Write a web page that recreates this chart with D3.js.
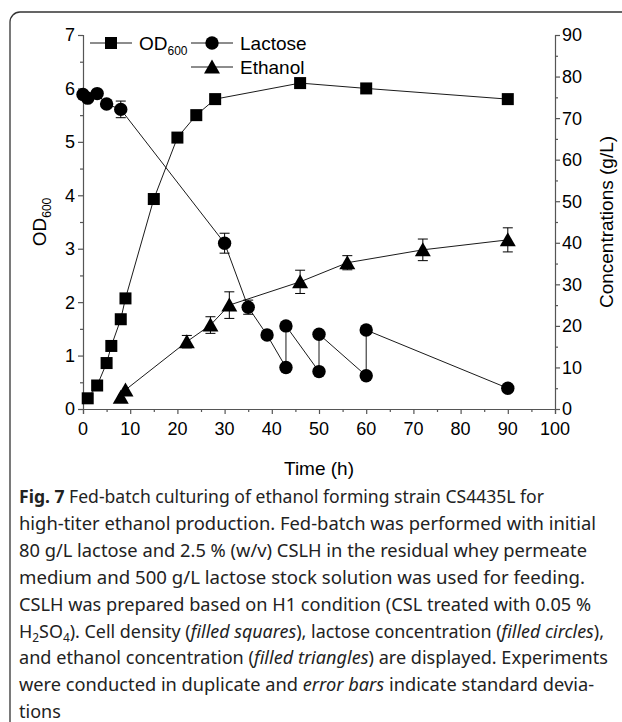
<!DOCTYPE html>
<html>
<head>
<meta charset="utf-8">
<script src="https://cdn.jsdelivr.net/npm/d3@7"></script>
<style>
  body { margin: 0; background: #fff; }
  svg { display: block; font-family: "Liberation Sans", Arial, sans-serif; }
  .caption { font-family: "Noto Sans", "Open Sans", sans-serif; }
</style>
</head>
<body>
<div id="chart"></div>
<script>
// OD600 (left axis)
const odTime = [1, 3, 5, 6, 8, 9, 15, 20, 24, 28, 46, 60, 90];
const odValue = [0.2, 0.44, 0.86, 1.18, 1.68, 2.07, 3.93, 5.08, 5.5, 5.8, 6.1, 6.0, 5.8];

// Lactose g/L (right axis), feeding spikes give the repeated times
const lacTime = [0, 1, 3, 5, 8, 30, 35, 39, 43, 43, 50, 50, 60, 60, 90];
const lacValue = [75.7, 74.8, 75.9, 73.4, 72.1, 39.9, 24.5, 17.8, 10.0, 20.0, 9.0, 18.0, 8.0, 19.0, 5.0];
const lacError = [0, 0, 0, 0, 2.0, 2.4, 1.7, 0, 0, 0, 0, 0, 0, 0, 0];

// Ethanol g/L (right axis)
const ethTime = [8, 9, 22, 27, 31, 46, 56, 72, 90];
const ethValue = [2.8, 4.6, 16.2, 20.2, 25.0, 30.6, 35.2, 38.3, 40.7];
const ethError = [0, 0, 1.5, 2.0, 3.2, 2.8, 1.7, 2.6, 2.9];

const xTicks = [0, 10, 20, 30, 40, 50, 60, 70, 80, 90, 100];
const odTicks = [0, 1, 2, 3, 4, 5, 6, 7];
const concTicks = [0, 10, 20, 30, 40, 50, 60, 70, 80, 90];

const captionLines = [
    [["Fig. 7", "b"], ["  Fed-batch culturing of ethanol forming strain CS4435L for", ""]],
    [["high-titer ethanol production. Fed-batch was performed with initial", ""]],
    [["80 g/L lactose and 2.5 % (w/v) CSLH in the residual whey permeate", ""]],
    [["medium and 500 g/L lactose stock solution was used for feeding.", ""]],
    [["CSLH was prepared based on H1 condition (CSL treated with 0.05 %", ""]],
    [["H", ""], ["2", "sub"], ["SO", ""], ["4", "sub"], ["). Cell density (", ""], ["filled squares", "i"], ["), lactose concentration (", ""], ["filled circles", "i"], ["),", ""]],
    [["and ethanol concentration (", ""], ["filled triangles", "i"], [") are displayed. Experiments", ""]],
    [["were conducted in duplicate and ", ""], ["error bars", "i"], [" indicate standard devia-", ""]],
    [["tions", ""]]
];
const captionWidths = [525, 577, 568, 566, 572, 585, 589, 575, null];

const W = 622, H = 722;
const svg = d3.select("#chart").append("svg")
    .attr("width", W)
    .attr("height", H);

svg.append("rect").attr("width", W).attr("height", H).attr("fill", "#fff");

// frame around the figure (runs off the right and bottom)
svg.append("rect")
    .attr("x", 10).attr("y", 12)
    .attr("width", 640).attr("height", 740)
    .attr("rx", 10)
    .attr("fill", "none")
    .attr("stroke", "#333")
    .attr("stroke-width", 1.3);

const x = d3.scaleLinear().domain([0, 100]).range([83, 555]);
const yOD = d3.scaleLinear().domain([0, 7]).range([409, 35]);
const yC = d3.scaleLinear().domain([0, 90]).range([409, 35]);

const axisColor = "#555";
const tickFont = 18;

// axes
const gx = svg.append("g").attr("transform", `translate(0,${yOD(0)})`)
    .call(d3.axisBottom(x).tickValues(d3.range(0, 101, 5)).tickSize(5).tickFormat(""));
const gl = svg.append("g").attr("transform", `translate(${x(0)},0)`)
    .call(d3.axisLeft(yOD).tickValues(d3.range(0, 7.01, 0.5)).tickSize(5).tickFormat(""));
const gr = svg.append("g").attr("transform", `translate(${x(100)},0)`)
    .call(d3.axisRight(yC).tickValues(d3.range(0, 91, 5)).tickSize(5).tickFormat(""));

[gx, gl, gr].forEach(g => {
    g.select(".domain").attr("stroke", axisColor).attr("stroke-width", 1.2);
    g.selectAll(".tick line").attr("stroke", axisColor).attr("stroke-width", 1.2);
});
// shorter minor ticks
gx.selectAll(".tick").filter(d => d % 10 !== 0).select("line").attr("y2", 3);
gl.selectAll(".tick").filter(d => d % 1 !== 0).select("line").attr("x2", -3);
gr.selectAll(".tick").filter(d => d % 10 !== 0).select("line").attr("x2", 3);

// tick labels
svg.append("g").selectAll("text").data(xTicks).join("text")
    .attr("x", d => x(d)).attr("y", 435)
    .attr("text-anchor", "middle")
    .attr("font-size", tickFont)
    .text(d => d);
svg.append("g").selectAll("text").data(odTicks).join("text")
    .attr("x", x(0) - 8).attr("y", d => yOD(d))
    .attr("dy", "0.36em")
    .attr("text-anchor", "end")
    .attr("font-size", tickFont)
    .text(d => d);
svg.append("g").selectAll("text").data(concTicks).join("text")
    .attr("x", x(100) + 7).attr("y", d => yC(d))
    .attr("dy", "0.36em")
    .attr("text-anchor", "start")
    .attr("font-size", tickFont)
    .text(d => d);

// axis titles
svg.append("text")
    .attr("x", (x(0) + x(100)) / 2).attr("y", 475)
    .attr("text-anchor", "middle")
    .attr("font-size", 19)
    .text("Time (h)");

const odLabel = svg.append("text")
    .attr("transform", `translate(46,${yOD(3.5)}) rotate(-90)`)
    .attr("text-anchor", "middle")
    .attr("font-size", 19);
odLabel.append("tspan").text("OD");
odLabel.append("tspan").attr("font-size", 12).attr("dy", 5).text("600");

svg.append("text")
    .attr("transform", `translate(613,${yC(45)}) rotate(-90)`)
    .attr("text-anchor", "middle")
    .attr("font-size", 19)
    .text("Concentrations (g/L)");

// marker shapes
function drawMarker(g, shape, cx, cy) {
    if (shape === "square") {
        g.append("rect").attr("x", cx - 6).attr("y", cy - 6)
            .attr("width", 12).attr("height", 12).attr("fill", "#000");
    } else if (shape === "circle") {
        g.append("circle").attr("cx", cx).attr("cy", cy).attr("r", 6.7).attr("fill", "#000");
    } else {
        g.append("path")
            .attr("d", `M${cx},${cy - 7.5}L${cx + 8},${cy + 6.5}L${cx - 8},${cy + 6.5}Z`)
            .attr("fill", "#000");
    }
}

function drawSeries(times, values, errors, yScale, shape) {
    const pts = times.map((t, i) => ({ t: t, v: values[i], e: errors ? errors[i] : 0 }));
    const g = svg.append("g");
    g.append("path")
        .datum(pts)
        .attr("fill", "none")
        .attr("stroke", "#000")
        .attr("stroke-width", 0.9)
        .attr("d", d3.line().x(d => x(d.t)).y(d => yScale(d.v)));

    const eb = g.append("g").attr("stroke", "#000").attr("stroke-width", 1);
    pts.filter(d => d.e > 0).forEach(d => {
        const cx = x(d.t), y1 = yScale(d.v + d.e), y2 = yScale(d.v - d.e);
        eb.append("line").attr("x1", cx).attr("x2", cx).attr("y1", y1).attr("y2", y2);
        eb.append("line").attr("x1", cx - 5).attr("x2", cx + 5).attr("y1", y1).attr("y2", y1);
        eb.append("line").attr("x1", cx - 5).attr("x2", cx + 5).attr("y1", y2).attr("y2", y2);
    });

    pts.forEach(d => drawMarker(g, shape, x(d.t), yScale(d.v)));
}

drawSeries(lacTime, lacValue, lacError, yC, "circle");
drawSeries(ethTime, ethValue, ethError, yC, "triangle");
drawSeries(odTime, odValue, null, yOD, "square");

// legend
const legend = svg.append("g").attr("font-size", 19);
function legendItem(x0, y0, shape, label, sub) {
    legend.append("line").attr("x1", x0).attr("x2", x0 + 42)
        .attr("y1", y0).attr("y2", y0).attr("stroke", "#000").attr("stroke-width", 0.9);
    drawMarker(legend, shape, x0 + 21, y0);
    const t = legend.append("text").attr("x", x0 + 49).attr("y", y0).attr("dy", "0.36em").text(label);
    if (sub) t.append("tspan").attr("font-size", 12).attr("dy", 5).text(sub);
}
legendItem(90, 43, "square", "OD", "600");
legendItem(191, 43, "circle", "Lactose");
legendItem(191, 67, "triangle", "Ethanol");

// caption
const cap = svg.append("g").attr("class", "caption").attr("font-size", 18).attr("fill", "#222");
captionLines.forEach((line, i) => {
    const t = cap.append("text").attr("x", 19).attr("y", 503 + i * 26.9);
    if (captionWidths[i]) t.attr("textLength", captionWidths[i]).attr("lengthAdjust", "spacingAndGlyphs");
    line.forEach(([str, style]) => {
        const s = t.append("tspan").text(str);
        if (style === "b") s.attr("font-weight", "bold");
        if (style === "i") s.attr("font-style", "italic");
        if (style === "sub") {
            s.attr("font-size", 12).attr("dy", 4);
        }
    });
    // restore baseline after subscripts
    t.selectAll("tspan").each(function (d, k, nodes) {
        const prev = k > 0 ? d3.select(nodes[k - 1]) : null;
        if (prev && prev.attr("dy") === "4" && d3.select(this).attr("dy") !== "4") {
            d3.select(this).attr("dy", -4);
        }
    });
});
</script>
</body>
</html>
